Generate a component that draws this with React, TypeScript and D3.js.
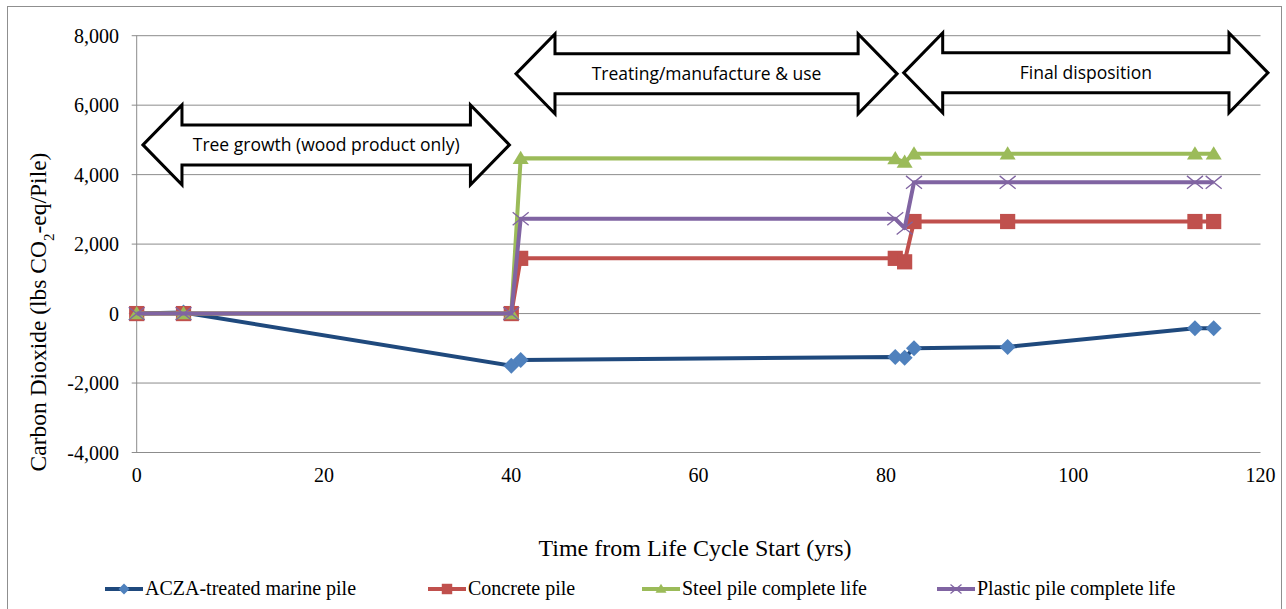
import React from 'react';
import * as d3 from 'd3';

const years = [0, 5, 40, 41, 81, 82, 83, 93, 113, 115];
const aczaValues = [0, 30, -1500, -1340, -1250, -1270, -1000, -960, -420, -420];
const concreteValues = [0, 0, 0, 1590, 1590, 1490, 2650, 2650, 2650, 2650];
const steelValues = [0, 0, 0, 4470, 4460, 4360, 4600, 4600, 4600, 4600];
const plasticValues = [0, 0, 0, 2730, 2730, 2460, 3780, 3780, 3780, 3780];
const seriesNames = ['ACZA-treated marine pile', 'Concrete pile', 'Steel pile complete life', 'Plastic pile complete life'];
const xTicks = [0, 20, 40, 60, 80, 100, 120];
const yTicks = [-4000, -2000, 0, 2000, 4000, 6000, 8000];
const phaseLabels = ['Tree growth (wood product only)', 'Treating/manufacture & use', 'Final disposition'];
const phaseStart = [0.67, 40.5, 81.9];
const phaseEnd = [39.8, 81.2, 120.8];
const phaseLevel = [4856, 6902, 6931];

const lineColors = ['#1F497D', '#C0504D', '#9BBB59', '#8064A2'];
const markerColors = ['#4F81BD', '#C0504D', '#9BBB59', '#8064A2'];
const markerTypes = ['diamond', 'square', 'triangle', 'x'];
const legendX = [105, 428, 642, 937];

const SERIF = '"Liberation Serif", "Times New Roman", serif';
const SANS = '"Open Sans", "Noto Sans", sans-serif';

const fmt = d3.formatLocale({ decimal: '.', thousands: ',', grouping: [3], currency: ['$', ''], minus: '-' }).format(',');

function Marker({ type, cx, cy, color, s }: { type: string; cx: number; cy: number; color: string; s: number }) {
  const h = s / 2;
  if (type === 'diamond') {
    return <path d={`M${cx},${cy - h}L${cx + h},${cy}L${cx},${cy + h}L${cx - h},${cy}Z`} fill={color} />;
  }
  if (type === 'square') {
    const q = h * 0.95;
    return <rect x={cx - q} y={cy - q} width={2 * q} height={2 * q} fill={color} />;
  }
  if (type === 'triangle') {
    return <path d={`M${cx},${cy - h * 0.95}L${cx + h},${cy + h * 0.7}L${cx - h},${cy + h * 0.7}Z`} fill={color} />;
  }
  return (
    <path
      d={`M${cx - h},${cy - h * 0.8}L${cx + h},${cy + h * 0.8}M${cx - h},${cy + h * 0.8}L${cx + h},${cy - h * 0.8}`}
      stroke={color}
      strokeWidth={1.3}
      fill="none"
    />
  );
}

export default function App() {
  const W = 1286;
  const H = 609;
  const xs = d3.scaleLinear().domain([0, 120]).range([136.7, 1260.5]);
  const ys = d3.scaleLinear().domain([-4000, 8000]).range([452.5, 35.7]);
  const allSeries = [aczaValues, concreteValues, steelValues, plasticValues];
  const line = d3
    .line<number>()
    .x((_, i) => xs(years[i]))
    .y((d) => ys(d));

  const arrowPath = (xl: number, xr: number, yc: number) => {
    const head = 39;
    const hh = 40;
    const sh = 20;
    return `M${xl},${yc}L${xl + head},${yc - hh}L${xl + head},${yc - sh}L${xr - head},${yc - sh}L${xr - head},${yc - hh}L${xr},${yc}L${xr - head},${yc + hh}L${xr - head},${yc + sh}L${xl + head},${yc + sh}L${xl + head},${yc + hh}Z`;
  };

  return (
    <svg width={W} height={H} style={{ position: 'absolute', left: 0, top: 0, background: '#fff' }}>
      <rect x={7.5} y={6.5} width={1274} height={640} fill="#fff" stroke="#8f8f8f" strokeWidth={1} />
      {yTicks.map((t) => (
        <line key={t} x1={xs(0) - 5} x2={xs(120)} y1={ys(t)} y2={ys(t)} stroke="#8c8c8c" strokeWidth={1} />
      ))}
      <line x1={xs(0)} x2={xs(0)} y1={ys(8000)} y2={ys(-4000)} stroke="#8c8c8c" strokeWidth={1} />
      {yTicks.map((t) => (
        <text key={t} x={119} y={ys(t)} dy="0.35em" textAnchor="end" fontFamily={SERIF} fontSize={20} fill="#000">
          {fmt(t)}
        </text>
      ))}
      {xTicks.map((t) => (
        <text key={t} x={xs(t)} y={482} textAnchor="middle" fontFamily={SERIF} fontSize={20} fill="#000">
          {t}
        </text>
      ))}
      <text x={695} y={556} textAnchor="middle" fontFamily={SERIF} fontSize={24} fill="#000">
        Time from Life Cycle Start (yrs)
      </text>
      <text transform="translate(46,312) rotate(-90)" textAnchor="middle" fontFamily={SERIF} fontSize={23.5} fill="#000">
        Carbon Dioxide (lbs CO<tspan baselineShift="sub" fontSize={15}>2</tspan>-eq/Pile)
      </text>
      {phaseLabels.map((lab, i) => {
        const xl = xs(phaseStart[i]);
        const xr = xs(phaseEnd[i]);
        const yc = ys(phaseLevel[i]);
        return (
          <g key={lab}>
            <path d={arrowPath(xl, xr, yc)} fill="#fff" stroke="#000" strokeWidth={3} strokeLinejoin="miter" />
            <text x={(xl + xr) / 2} y={yc} dy="0.35em" textAnchor="middle" fontFamily={SANS} fontSize={17.5} fill="#000">
              {lab}
            </text>
          </g>
        );
      })}
      {allSeries.map((vals, si) => (
        <g key={si}>
          <path d={line(vals) || ''} fill="none" stroke={lineColors[si]} strokeWidth={4} strokeLinejoin="round" />
          {vals.map((v, i) => (
            <Marker key={i} type={markerTypes[si]} cx={xs(years[i])} cy={ys(v)} color={markerColors[si]} s={16} />
          ))}
        </g>
      ))}
      {seriesNames.map((name, si) => {
        const lx = legendX[si];
        const ly = 589;
        return (
          <g key={name}>
            <line x1={lx} x2={lx + 38} y1={ly} y2={ly} stroke={lineColors[si]} strokeWidth={4} />
            <Marker type={markerTypes[si]} cx={lx + 19} cy={ly} color={markerColors[si]} s={11} />
            <text x={lx + 40} y={ly + 6} fontFamily={SERIF} fontSize={20} fill="#000">
              {name}
            </text>
          </g>
        );
      })}
    </svg>
  );
}
